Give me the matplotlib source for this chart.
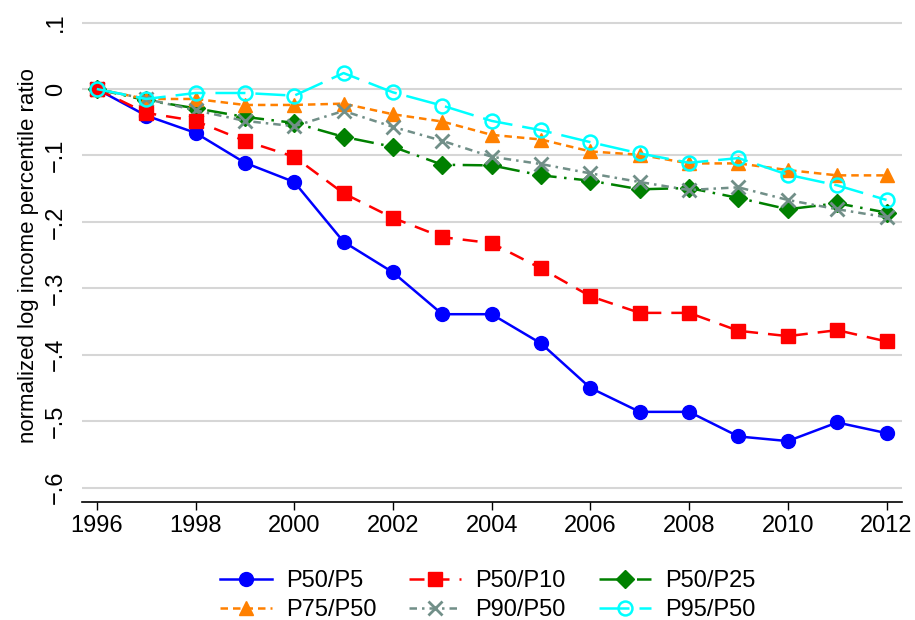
import numpy as np
import matplotlib
matplotlib.use('Agg')
import matplotlib.pyplot as plt

plt.rcParams['font.family'] = ['Liberation Sans', 'DejaVu Sans']

# data
years = list(range(1996, 2013))
p50_p5 = [0, -0.040, -0.066, -0.111, -0.140, -0.230, -0.276, -0.339, -0.339,
          -0.383, -0.450, -0.486, -0.486, -0.523, -0.530, -0.502, -0.518]
p50_p10 = [0, -0.036, -0.048, -0.078, -0.102, -0.157, -0.194, -0.223, -0.232,
           -0.270, -0.312, -0.337, -0.337, -0.364, -0.372, -0.363, -0.380]
p50_p25 = [0, -0.017, -0.029, -0.042, -0.051, -0.072, -0.087, -0.114, -0.115,
           -0.130, -0.138, -0.151, -0.149, -0.164, -0.181, -0.172, -0.186]
p75_p50 = [0, -0.015, -0.015, -0.024, -0.024, -0.022, -0.038, -0.049, -0.069,
           -0.076, -0.094, -0.099, -0.112, -0.112, -0.122, -0.130, -0.130]
p90_p50 = [0, -0.015, -0.032, -0.048, -0.056, -0.033, -0.057, -0.078, -0.102,
           -0.113, -0.127, -0.140, -0.152, -0.148, -0.167, -0.181, -0.193]
p95_p50 = [0, -0.015, -0.006, -0.006, -0.010, 0.024, -0.005, -0.025, -0.048,
           -0.062, -0.080, -0.097, -0.111, -0.104, -0.129, -0.145, -0.167]

yticks = [-0.6, -0.5, -0.4, -0.3, -0.2, -0.1, 0, 0.1]
ylabels = ['\u2212.6', '\u2212.5', '\u2212.4', '\u2212.3', '\u2212.2', '\u2212.1', '0', '.1']
xticks = list(range(1996, 2013, 2))

fig = plt.figure(figsize=(9.15, 6.2), dpi=100)
ax = fig.add_axes([0.0896, 0.190, 0.896, 0.795])

lw = 1.8
l1, = ax.plot(years, p50_p5, color='#0000ff', ls='-', lw=lw, marker='o', ms=10, label='P50/P5', zorder=5)
l2, = ax.plot(years, p50_p10, color='#ff0000', ls=(0, (6, 4)), lw=lw, marker='s', ms=9.5, label='P50/P10', zorder=5)
l3, = ax.plot(years, p50_p25, color='#008000', ls=(0, (8, 3, 1, 3)), lw=lw, marker='D', ms=9, label='P50/P25', zorder=4)
l4, = ax.plot(years, p75_p50, color='#ff8000', ls=(0, (3, 2)), lw=lw, marker='^', ms=10.5, label='P75/P50', zorder=4)
l5, = ax.plot(years, p90_p50, color='#718f88', ls=(0, (3, 2, 1, 2)), lw=lw, marker='x', ms=10, mew=2, label='P90/P50', zorder=4)
l6, = ax.plot(years, p95_p50, color='#00ffff', ls=(0, (12, 4)), lw=lw, marker='o', ms=10, mfc='none', mew=1.8, label='P95/P50', zorder=6)

ax.set_xlim(1995.7, 2012.31)
ax.set_ylim(-0.622, 0.12)
ax.set_xticks(xticks)
ax.set_yticks(yticks)
ax.set_yticklabels(ylabels, rotation=90, va='center')
ax.tick_params(axis='y', length=0, pad=11, labelsize=17)
ax.tick_params(axis='x', length=6, width=1, pad=3, labelsize=17)
ax.grid(axis='y', color='#d6d6d6', lw=1.5)
ax.set_axisbelow(True)
for s in ['top', 'right', 'left']:
    ax.spines[s].set_visible(False)
ax.spines['bottom'].set_linewidth(1.2)
ax.set_ylabel('normalized log income percentile ratio', fontsize=16, labelpad=4)

# column-major order so rows read P50/P5, P50/P10, P50/P25 / P75, P90, P95
handles = [l1, l4, l2, l5, l3, l6]
ax.legend(handles, [h.get_label() for h in handles],
          loc='upper left', bbox_to_anchor=(0.240, 0.080), bbox_transform=fig.transFigure,
          ncol=3, frameon=False, fontsize=17, handlelength=2.2, columnspacing=1.4,
          handletextpad=0.6, labelspacing=0.3, borderpad=0, borderaxespad=0)

fig.savefig('out.png', dpi=100)
